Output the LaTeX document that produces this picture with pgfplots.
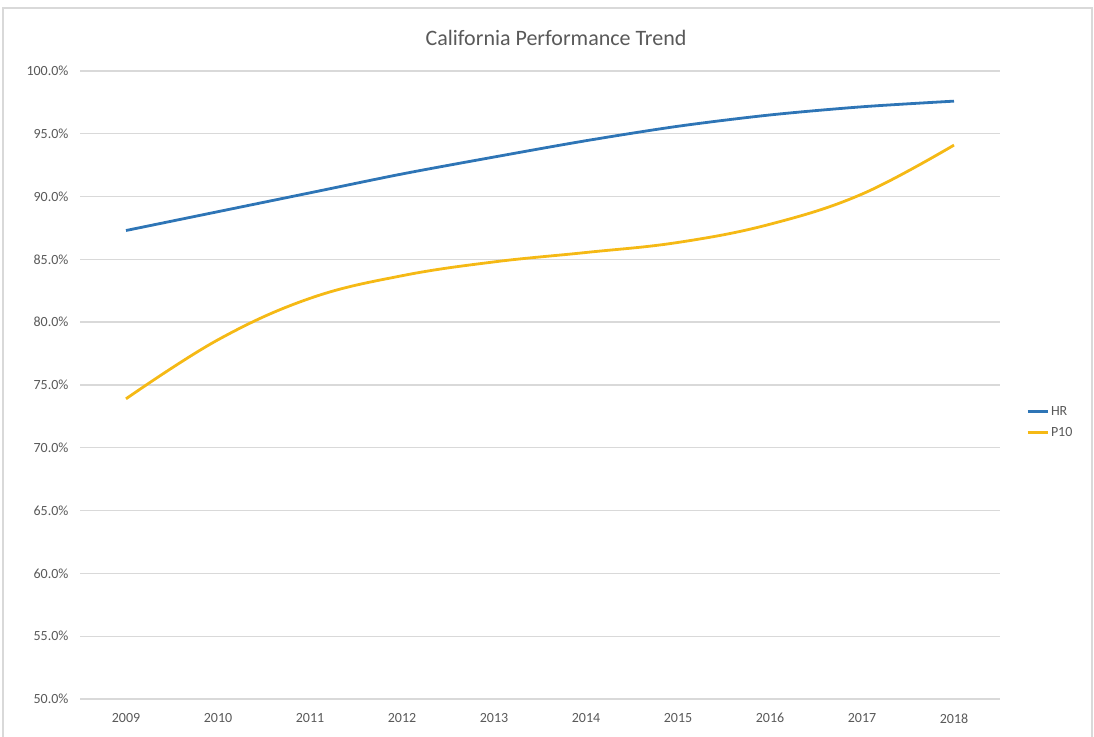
\documentclass[border=0pt]{standalone}
\usepackage{pgfplots}
\pgfplotsset{compat=1.18}
\usepackage{fontspec}
\setmainfont{Carlito}
\definecolor{hrblue}{HTML}{2E75B6}
\definecolor{pyellow}{HTML}{F5B915}
\definecolor{gridgray}{HTML}{D9D9D9}
\definecolor{txtgray}{HTML}{595959}
\begin{document}
\begin{tikzpicture}[x=1pt,y=1pt]
\path[use as bounding box] (0,0) rectangle (1094,736);
\draw[gridgray, line width=1.2pt] (3,-5) rectangle (1092,728);
\node[txtgray, font=\fontsize{22}{26}\selectfont] at (556,698) {California Performance Trend};
\begin{axis}[
  at={(80pt,37pt)}, anchor=south west,
  width=920pt, height=628pt, scale only axis,
  xmin=-0.5, xmax=9.5, ymin=50, ymax=100,
  xtick={0,...,9},
  xticklabels={2009,2010,2011,2012,2013,2014,2015,2016,2017,2018},
  ytick={50,55,...,100},
  yticklabel={\pgfmathprintnumber[fixed,fixed zerofill,precision=1]{\tick}\%},
  /pgf/number format/assume math mode=true,
  ymajorgrids, grid style={gridgray, line width=1.4pt},
  axis line style={draw=none},
  major tick length=0pt,
  tick label style={txtgray, font=\fontsize{14}{16}\selectfont},
  yticklabel style={xshift=-8pt},
  xticklabel style={yshift=-11pt},
  legend style={at={(1.025,0.441)}, anchor=west, draw=none, fill=none,
    font=\fontsize{14}{16}\selectfont, text=txtgray, row sep=6pt,
    legend cell align=left},
  legend image code/.code={\draw[#1, line width=2.8pt] (0pt,0pt) -- (20pt,0pt);},
]
\addplot[hrblue, line width=2.8pt, smooth, tension=0.5] coordinates {
  (0,87.3) (1,88.8) (2,90.3) (3,91.8) (4,93.15) (5,94.45) (6,95.6) (7,96.5) (8,97.15) (9,97.6)
};
\addlegendentry{HR}
\addplot[pyellow, line width=2.8pt, smooth, tension=0.65] coordinates {
  (0,73.9) (1,78.6) (2,81.9) (3,83.7) (4,84.8) (5,85.55) (6,86.35) (7,87.8) (8,90.2) (9,94.1)
};
\addlegendentry{P10}
\end{axis}
\end{tikzpicture}
\end{document}
